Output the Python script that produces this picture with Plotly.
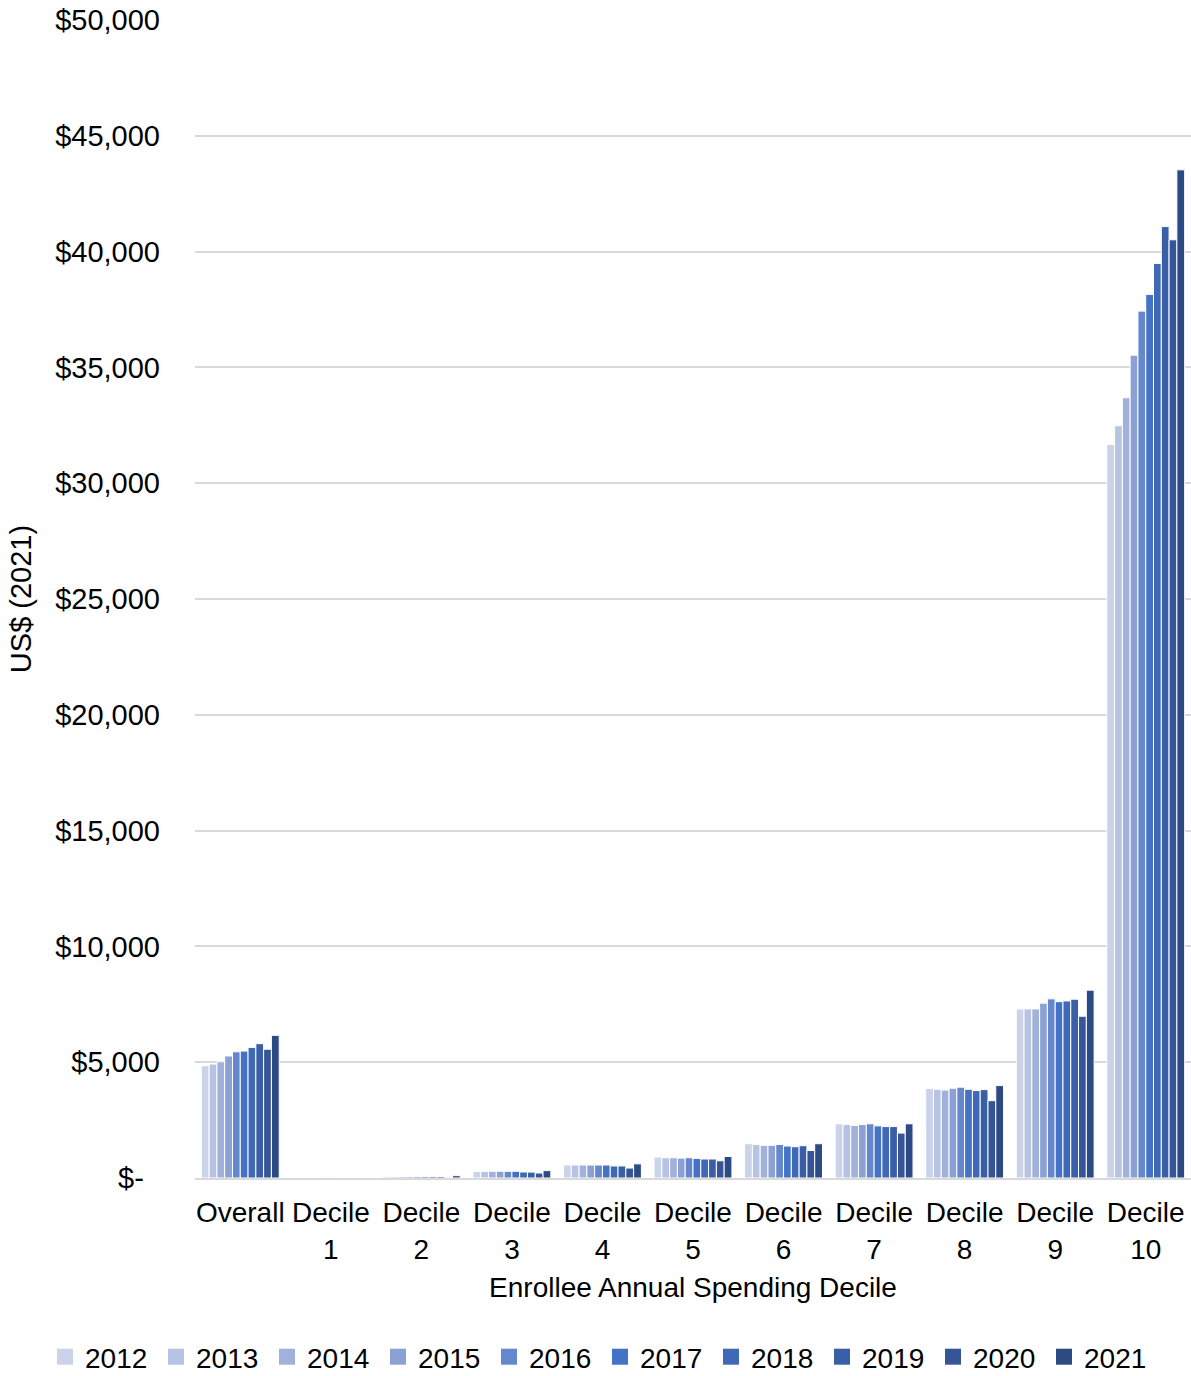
import plotly.graph_objects as go

categories = ["Overall", "Decile<br>1", "Decile<br>2", "Decile<br>3", "Decile<br>4",
              "Decile<br>5", "Decile<br>6", "Decile<br>7", "Decile<br>8", "Decile<br>9", "Decile<br>10"]
years = ["2012", "2013", "2014", "2015", "2016", "2017", "2018", "2019", "2020", "2021"]

# values per year, in category order
v2012 = [4850, 5, 60, 280, 560, 905, 1480, 2340, 3860, 7300, 31670]
v2013 = [4920, 5, 60, 285, 560, 875, 1450, 2310, 3830, 7300, 32480]
v2014 = [5020, 5, 65, 290, 560, 875, 1410, 2265, 3800, 7300, 33690]
v2015 = [5270, 5, 65, 290, 560, 860, 1410, 2310, 3875, 7550, 35530]
v2016 = [5450, 5, 65, 290, 560, 875, 1450, 2340, 3920, 7735, 37430]
v2017 = [5480, 5, 65, 290, 560, 845, 1380, 2250, 3830, 7615, 38150]
v2018 = [5640, 5, 65, 260, 520, 820, 1350, 2220, 3775, 7645, 39490]
v2019 = [5800, 5, 65, 255, 520, 820, 1395, 2220, 3815, 7720, 41080]
v2020 = [5560, 5, 25, 215, 430, 745, 1190, 1940, 3340, 6985, 40510]
v2021 = [6160, 5, 100, 320, 610, 930, 1480, 2340, 3990, 8110, 43530]
series = [v2012, v2013, v2014, v2015, v2016, v2017, v2018, v2019, v2020, v2021]

colors = ["#CBD3EA", "#B6C3E3", "#A1B1DB", "#8BA0D4", "#6587CC",
          "#4472C4", "#3F69B6", "#3A5FA7", "#355598", "#2C4A84"]

ytickvals = [0, 5000, 10000, 15000, 20000, 25000, 30000, 35000, 40000, 45000, 50000]
yticktext = ["$-\u00a0\u00a0", "$5,000", "$10,000", "$15,000", "$20,000", "$25,000",
             "$30,000", "$35,000", "$40,000", "$45,000", "$50,000"]

FONT = "Liberation Sans, Arial, sans-serif"
fig = go.Figure()
for yr, vals, col in zip(years, series, colors):
    fig.add_trace(go.Bar(name=yr, x=categories, y=vals, marker_color=col,
                         marker_line_color="white", marker_line_width=1,
                         showlegend=False))
# legend entries with square swatches (split across two legend boxes to keep one row)
for i, (yr, col) in enumerate(zip(years, colors)):
    fig.add_trace(go.Scatter(name=yr, x=[None], y=[None], mode="markers",
                             marker=dict(symbol="square", size=16, color=col),
                             showlegend=True, legend="legend" if i < 5 else "legend2"))

leg_common = dict(orientation="h", xref="container", yref="container",
                  xanchor="left", y=1 - 1357 / 1376, yanchor="middle",
                  font=dict(size=28), itemwidth=30, traceorder="normal",
                  entrywidth=66, entrywidthmode="pixels", bgcolor="rgba(0,0,0,0)")

fig.update_layout(
    width=1191, height=1376,
    margin=dict(l=195, r=0, t=20, b=198, autoexpand=False),
    plot_bgcolor="white", paper_bgcolor="white",
    barmode="group", bargap=0.14, bargroupgap=0,
    font=dict(family=FONT, size=28, color="#000000"),
    legend=dict(x=45 / 1191, **leg_common),
    legend2=dict(x=(45 + 5 * 111) / 1191, **leg_common),
    showlegend=True,
)
fig.update_yaxes(range=[0, 50000], tickvals=ytickvals, ticktext=yticktext,
                 tickfont=dict(size=29),
                 showgrid=True, gridcolor="#D9D9D9", gridwidth=1.5,
                 zeroline=False, showline=False, ticks="", ticklabelstandoff=34,
                 title=dict(text="US$ (2021)", font=dict(size=29), standoff=15))
fig.update_xaxes(showline=True, linecolor="#D9D9D9", linewidth=1.5, ticks="",
                 tickfont=dict(size=28), ticklabelstandoff=9,
                 title=dict(text="Enrollee Annual Spending Decile", font=dict(size=28), standoff=14))

fig.write_html("out.html", config={"displayModeBar": False},
               post_script="document.body.style.margin='0';document.body.style.overflow='hidden';")
